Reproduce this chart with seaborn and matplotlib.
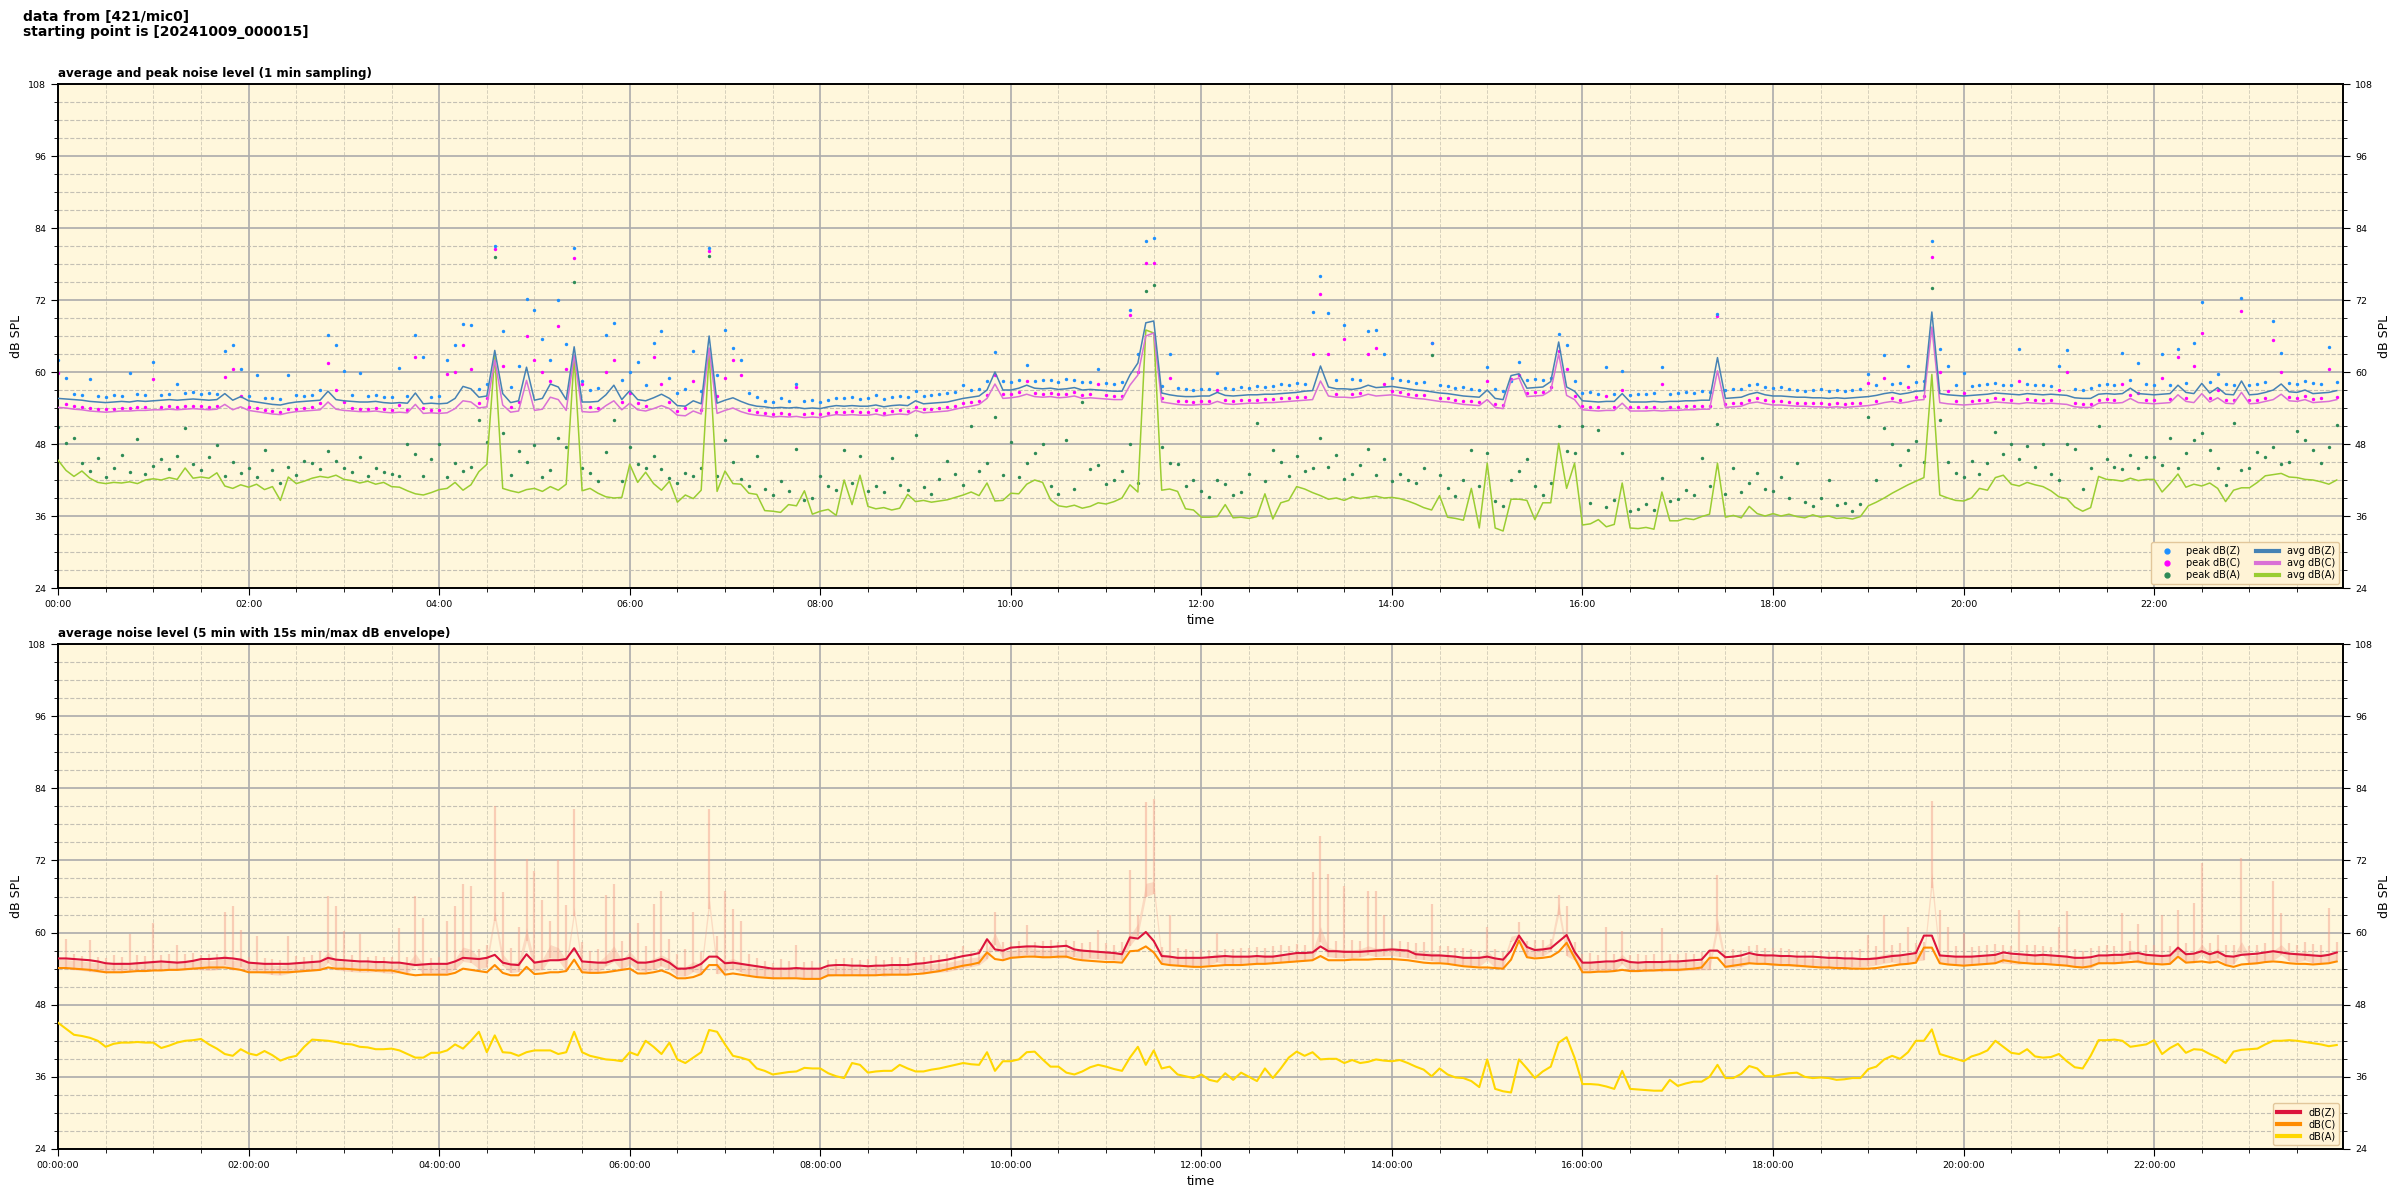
import numpy as np
import pandas as pd
import matplotlib
matplotlib.use("Agg")
import matplotlib.pyplot as plt
import matplotlib.dates as mdates
from matplotlib.lines import Line2D
from matplotlib.ticker import MultipleLocator
import seaborn as sns

# ---------------- data: 5-minute samples 00:00 .. 23:55 (12 values per hour) -------------
avg_z = [
 55.6, 55.5, 55.4, 55.3, 55.1, 55.0, 54.9, 55.0, 55.1, 55.0, 55.2, 55.1,
 55.2, 55.3, 55.4, 55.3, 55.4, 55.5, 55.4, 55.3, 55.4, 56.4, 55.3, 55.9,
 55.2, 55.0, 54.8, 54.6, 54.5, 54.8, 55.0, 55.1, 55.2, 55.3, 56.8, 55.4,
 55.2, 55.1, 55.0, 55.0, 55.1, 54.9, 54.8, 54.9, 54.8, 56.5, 54.7, 54.8,
 54.7, 54.8, 55.6, 57.6, 57.2, 55.8, 56.0, 63.6, 56.4, 54.9, 55.2, 60.8,
 55.3, 55.6, 58.0, 57.5, 55.4, 64.2, 55.0, 55.0, 55.1, 56.2, 57.8, 55.4,
 56.9, 55.4, 55.2, 55.7, 56.3, 55.6, 54.4, 54.3, 55.2, 54.7, 66.0, 54.8,
 55.3, 55.7, 55.1, 54.6, 54.3, 54.2, 54.0, 54.1, 54.0, 54.1, 53.9, 54.0,
 53.9, 54.2, 54.4, 54.3, 54.4, 54.3, 54.3, 54.5, 54.2, 54.4, 54.5, 54.4,
 55.2, 54.7, 54.8, 54.9, 55.0, 55.3, 55.6, 55.8, 56.0, 57.0, 60.0, 57.0,
 57.0, 57.3, 57.8, 57.3, 57.2, 57.3, 57.1, 57.2, 57.4, 57.0, 57.1, 57.0,
 56.9, 56.8, 56.8, 59.5, 61.5, 68.2, 68.5, 56.5, 56.2, 56.0, 55.9, 55.9,
 56.0, 56.0, 56.6, 56.1, 56.0, 56.1, 56.2, 56.2, 56.3, 56.3, 56.4, 56.5,
 56.6, 56.8, 56.9, 61.0, 57.5, 57.2, 57.2, 57.1, 57.3, 57.8, 57.4, 57.5,
 57.6, 57.4, 57.2, 57.0, 56.9, 56.7, 56.5, 56.4, 56.2, 56.0, 55.9, 55.8,
 57.0, 55.6, 55.4, 59.4, 59.7, 57.3, 57.4, 57.5, 58.4, 65.0, 57.5, 56.8,
 55.2, 55.1, 55.0, 55.1, 55.1, 56.4, 55.0, 55.0, 55.0, 55.1, 55.0, 55.1,
 55.1, 55.2, 55.2, 55.3, 55.3, 62.4, 55.6, 55.7, 55.8, 56.3, 56.6, 56.2,
 56.0, 56.0, 55.9, 55.8, 55.8, 55.7, 55.7, 55.6, 55.7, 55.6, 55.7, 55.8,
 55.9, 56.1, 56.4, 56.6, 56.3, 56.5, 56.8, 56.9, 70.0, 56.4, 56.2, 56.1,
 56.0, 56.1, 56.2, 56.3, 56.5, 56.4, 56.3, 56.2, 56.4, 56.3, 56.2, 56.3,
 56.2, 56.1, 55.7, 55.6, 55.6, 56.3, 56.4, 56.3, 56.4, 57.3, 56.4, 56.3,
 56.2, 56.3, 56.4, 57.8, 56.6, 56.4, 58.1, 56.5, 57.4, 56.3, 56.2, 58.5,
 56.2, 56.3, 56.6, 57.0, 58.0, 56.7, 56.6, 57.0, 56.4, 56.5, 56.6, 56.9,
]
avg_c = [
 54.1, 54.0, 53.8, 53.7, 53.5, 53.4, 53.3, 53.4, 53.5, 53.5, 53.6, 53.6,
 53.7, 53.7, 53.8, 53.7, 53.8, 53.9, 53.8, 53.7, 53.8, 54.6, 53.7, 54.2,
 53.6, 53.4, 53.2, 53.0, 52.9, 53.2, 53.4, 53.5, 53.6, 53.7, 55.0, 53.8,
 53.6, 53.5, 53.4, 53.4, 53.5, 53.3, 53.2, 53.3, 53.2, 54.6, 53.1, 53.2,
 53.1, 53.2, 53.9, 55.2, 55.0, 54.0, 54.2, 62.0, 54.5, 53.3, 53.5, 58.6,
 53.6, 53.8, 55.8, 55.4, 53.6, 62.8, 53.4, 53.3, 53.4, 54.4, 55.2, 53.7,
 54.8, 53.7, 53.5, 53.9, 54.4, 53.9, 52.8, 52.7, 53.5, 53.0, 64.0, 53.1,
 53.6, 54.0, 53.4, 53.0, 52.8, 52.7, 52.5, 52.6, 52.5, 52.6, 52.4, 52.5,
 52.4, 52.7, 52.9, 52.8, 52.9, 52.8, 52.8, 53.0, 52.7, 52.9, 53.0, 52.9,
 53.6, 53.2, 53.3, 53.4, 53.5, 53.8, 54.1, 54.3, 54.6, 55.6, 58.0, 55.6,
 55.7, 55.9, 56.3, 55.9, 55.8, 55.9, 55.7, 55.8, 56.0, 55.6, 55.7, 55.6,
 55.5, 55.4, 55.4, 57.8, 59.5, 66.0, 66.5, 55.0, 54.8, 54.6, 54.5, 54.5,
 54.6, 54.6, 55.1, 54.7, 54.6, 54.7, 54.8, 54.8, 54.9, 54.9, 55.0, 55.1,
 55.2, 55.3, 55.4, 58.5, 56.0, 55.8, 55.8, 55.7, 55.9, 56.3, 56.0, 56.1,
 56.2, 56.0, 55.8, 55.6, 55.5, 55.3, 55.1, 55.0, 54.8, 54.6, 54.5, 54.4,
 55.4, 54.1, 53.9, 58.6, 59.0, 55.9, 56.0, 56.1, 56.9, 63.0, 56.1, 55.4,
 53.7, 53.6, 53.5, 53.6, 53.6, 54.8, 53.5, 53.5, 53.5, 53.6, 53.5, 53.6,
 53.6, 53.7, 53.7, 53.8, 53.8, 60.2, 54.1, 54.2, 54.3, 54.8, 55.0, 54.7,
 54.5, 54.5, 54.4, 54.3, 54.3, 54.2, 54.2, 54.1, 54.2, 54.1, 54.2, 54.3,
 54.4, 54.6, 54.9, 55.1, 54.8, 55.0, 55.3, 55.4, 67.5, 54.9, 54.7, 54.6,
 54.5, 54.6, 54.7, 54.8, 55.0, 54.9, 54.8, 54.7, 54.9, 54.8, 54.7, 54.8,
 54.7, 54.6, 54.2, 54.1, 54.1, 54.8, 54.9, 54.8, 54.9, 55.6, 54.9, 54.8,
 54.7, 54.8, 54.9, 56.2, 55.1, 54.9, 56.4, 55.0, 55.7, 54.8, 54.7, 56.6,
 54.7, 54.8, 55.1, 55.4, 56.3, 55.2, 55.1, 55.4, 54.9, 55.0, 55.1, 55.4,
]
avg_a = [
 45.3, 43.6, 42.6, 43.5, 42.3, 41.6, 41.4, 41.6, 41.5, 41.7, 41.4, 42.0,
 42.2, 42.0, 42.4, 42.1, 44.0, 42.3, 42.5, 42.3, 43.2, 41.0, 40.6, 41.2,
 40.8, 41.3, 40.4, 40.9, 38.6, 42.5, 41.4, 41.8, 42.3, 42.6, 42.4, 42.8,
 42.1, 41.9, 41.5, 41.8, 41.3, 41.6, 40.9, 40.8, 40.2, 39.7, 39.5, 39.9,
 40.4, 40.6, 41.6, 40.3, 41.2, 43.4, 44.6, 62.8, 40.6, 40.2, 39.9, 40.4,
 40.6, 40.1, 40.9, 40.3, 41.3, 62.5, 40.2, 40.6, 39.8, 39.2, 39.0, 39.1,
 44.6, 41.6, 43.3, 41.4, 40.3, 41.8, 38.3, 39.5, 38.9, 40.3, 63.0, 40.1,
 43.5, 41.4, 41.3, 39.8, 39.6, 36.9, 36.8, 36.6, 37.9, 37.7, 40.2, 36.3,
 36.8, 37.1, 36.1, 42.0, 37.9, 42.8, 37.6, 37.2, 37.4, 37.0, 37.3, 39.6,
 38.4, 38.6, 38.3, 38.5, 38.7, 39.1, 39.5, 40.0, 39.4, 41.5, 38.5, 38.6,
 39.8, 39.7, 41.3, 42.0, 41.6, 38.7, 37.7, 37.5, 37.8, 37.3, 37.6, 38.2,
 38.0, 38.4, 39.0, 41.2, 40.0, 67.0, 66.5, 40.3, 40.5, 40.1, 37.2, 37.0,
 35.8, 35.8, 35.9, 37.9, 35.7, 35.8, 35.6, 35.9, 39.7, 35.5, 38.2, 38.6,
 40.9, 40.5, 39.9, 39.4, 38.8, 39.0, 38.6, 39.2, 38.9, 39.1, 39.3, 39.0,
 39.1, 38.9, 38.5, 38.0, 37.4, 37.0, 39.4, 35.8, 35.6, 35.3, 40.6, 34.0,
 44.8, 34.0, 33.5, 38.8, 38.8, 38.6, 35.4, 38.2, 38.2, 48.1, 40.6, 44.8,
 34.5, 34.7, 35.4, 34.2, 34.6, 41.5, 34.0, 33.9, 34.1, 33.8, 40.0, 35.2,
 35.2, 35.6, 35.4, 35.9, 36.3, 44.8, 35.8, 36.1, 35.7, 37.6, 36.4, 36.0,
 36.4, 36.0, 36.3, 35.9, 35.7, 36.2, 35.8, 36.0, 35.6, 35.7, 35.5, 35.9,
 37.7, 38.3, 39.0, 39.8, 40.5, 41.2, 41.8, 42.4, 59.6, 39.5, 39.0, 38.6,
 38.5, 39.0, 40.6, 40.3, 42.4, 42.8, 41.3, 41.0, 41.6, 41.2, 40.9, 40.2,
 39.2, 38.9, 37.5, 36.8, 37.4, 42.6, 42.1, 42.0, 41.8, 42.3, 41.9, 42.1,
 42.1, 40.0, 41.4, 43.0, 40.8, 41.3, 41.0, 41.5, 40.6, 38.4, 40.3, 40.7,
 40.7, 41.6, 42.7, 42.9, 43.1, 42.5, 42.4, 42.1, 42.0, 41.7, 41.3, 42.0,
]
peak_z = [
 62.0, 59.0, 56.4, 56.1, 58.8, 56.0, 55.8, 56.2, 56.0, 59.8, 56.3, 56.1,
 61.6, 56.2, 56.4, 58.0, 56.5, 56.6, 56.3, 56.5, 56.4, 63.5, 64.5, 60.5,
 56.0, 59.5, 55.7, 55.6, 55.5, 59.5, 56.1, 56.0, 56.2, 57.0, 66.1, 64.5,
 60.2, 56.2, 59.8, 56.0, 56.1, 55.9, 55.9, 60.7, 56.0, 66.1, 62.5, 55.8,
 56.0, 62.0, 64.5, 68.0, 67.8, 57.2, 58.0, 81.0, 66.8, 57.5, 61.0, 72.2,
 70.3, 65.5, 62.0, 72.0, 64.6, 80.6, 58.5, 57.0, 57.3, 66.2, 68.1, 58.6,
 60.0, 61.6, 57.8, 64.8, 66.9, 59.0, 56.5, 57.2, 63.5, 56.8, 80.6, 59.5,
 67.0, 64.0, 62.0, 56.5, 55.8, 55.2, 55.0, 55.6, 55.2, 58.0, 55.1, 55.3,
 55.0, 55.4, 55.6, 55.7, 55.8, 55.5, 55.6, 56.1, 55.5, 55.9, 56.0, 55.8,
 56.8, 56.0, 56.2, 56.3, 56.5, 56.6, 57.8, 57.0, 57.2, 58.5, 63.4, 58.5,
 58.4, 58.6, 61.2, 58.5, 58.6, 58.7, 58.4, 58.8, 58.6, 58.3, 58.4, 60.5,
 58.2, 58.0, 58.4, 70.4, 63.0, 81.8, 82.3, 57.6, 63.0, 57.4, 57.2, 57.0,
 57.2, 57.1, 59.9, 57.3, 57.2, 57.5, 57.4, 57.6, 57.5, 57.7, 58.0, 57.8,
 58.1, 58.0, 70.0, 76.0, 69.8, 58.6, 67.8, 58.8, 58.6, 66.9, 67.0, 63.0,
 59.0, 58.6, 58.5, 58.2, 58.4, 64.8, 57.8, 57.7, 57.4, 57.5, 57.2, 57.0,
 60.9, 57.2, 56.8, 58.5, 61.7, 58.6, 58.8, 58.7, 59.0, 66.3, 64.5, 58.5,
 56.5, 56.6, 56.3, 60.9, 56.4, 60.2, 56.2, 56.4, 56.3, 56.5, 60.8, 56.4,
 56.5, 56.6, 56.5, 56.8, 56.7, 69.6, 57.0, 57.2, 57.1, 57.8, 58.0, 57.5,
 57.4, 57.5, 57.2, 57.0, 56.9, 57.0, 57.1, 56.8, 57.0, 56.9, 57.0, 57.2,
 59.6, 57.8, 62.9, 58.0, 58.2, 61.0, 58.3, 58.5, 81.9, 63.8, 61.0, 57.8,
 59.9, 57.6, 57.8, 58.0, 58.1, 57.9, 57.8, 63.8, 58.0, 57.9, 57.8, 57.6,
 61.0, 63.6, 57.2, 57.0, 57.4, 57.8, 58.0, 57.8, 63.2, 58.6, 61.5, 58.0,
 57.9, 63.0, 57.8, 63.8, 58.2, 64.9, 71.6, 58.3, 59.6, 58.0, 57.9, 72.4,
 57.8, 58.0, 58.3, 68.5, 63.2, 58.2, 58.0, 58.5, 58.1, 58.0, 64.1, 58.4,
]
peak_c = [
 59.8, 54.6, 54.4, 54.2, 54.0, 53.9, 53.8, 53.9, 54.0, 54.0, 54.1, 54.1,
 58.9, 54.2, 54.3, 54.2, 54.3, 54.4, 54.3, 54.2, 54.3, 59.2, 60.5, 56.0,
 54.1, 54.0, 53.7, 53.5, 53.4, 53.8, 53.9, 54.0, 54.1, 54.8, 61.5, 57.0,
 55.0, 54.0, 53.9, 53.9, 54.0, 53.8, 53.7, 54.5, 53.7, 62.5, 54.0, 53.7,
 53.6, 59.6, 60.0, 64.5, 60.5, 54.8, 55.6, 80.5, 61.0, 54.2, 55.0, 66.0,
 62.0, 60.0, 58.5, 67.6, 60.5, 79.0, 58.0, 54.2, 54.0, 60.0, 62.0, 55.0,
 56.5, 54.8, 54.3, 62.5, 58.0, 55.0, 53.5, 54.0, 58.5, 53.6, 80.1, 56.0,
 59.0, 62.0, 59.5, 53.6, 53.3, 53.2, 53.0, 53.2, 53.0, 57.5, 53.0, 53.1,
 53.0, 53.2, 53.4, 53.3, 53.5, 53.3, 53.4, 53.6, 53.2, 53.5, 53.6, 53.5,
 54.2, 53.8, 53.9, 54.0, 54.1, 54.4, 54.8, 55.0, 55.2, 56.2, 59.5, 56.3,
 56.3, 56.6, 58.5, 56.5, 56.4, 56.5, 56.3, 56.4, 56.6, 56.2, 56.3, 58.0,
 56.1, 56.0, 56.0, 69.5, 60.0, 78.1, 78.2, 55.6, 59.0, 55.2, 55.1, 55.0,
 55.2, 55.1, 57.0, 55.3, 55.2, 55.3, 55.4, 55.4, 55.5, 55.5, 55.6, 55.7,
 55.8, 55.9, 63.0, 73.0, 63.0, 56.4, 65.5, 56.3, 56.5, 63.0, 64.0, 58.0,
 56.8, 56.6, 56.4, 56.2, 56.1, 64.8, 55.7, 55.6, 55.4, 55.2, 55.1, 55.0,
 58.5, 54.7, 54.5, 58.8, 59.5, 56.5, 56.6, 56.7, 57.5, 63.5, 60.5, 56.0,
 54.3, 54.2, 54.1, 56.0, 54.2, 57.0, 54.1, 54.1, 54.1, 54.2, 58.0, 54.2,
 54.2, 54.3, 54.3, 54.4, 54.4, 69.4, 54.7, 54.8, 54.9, 55.4, 55.6, 55.3,
 55.1, 55.1, 55.0, 54.9, 54.9, 54.8, 54.8, 54.7, 54.8, 54.7, 54.8, 54.9,
 58.2, 55.2, 59.0, 55.7, 55.4, 57.5, 55.9, 56.0, 79.2, 60.0, 56.8, 55.2,
 56.5, 55.2, 55.3, 55.4, 55.6, 55.5, 55.4, 58.5, 55.5, 55.4, 55.3, 55.4,
 57.0, 60.0, 54.8, 54.7, 54.7, 55.4, 55.5, 55.4, 58.0, 56.2, 56.5, 55.4,
 55.3, 59.0, 55.5, 62.5, 55.7, 61.0, 66.5, 55.6, 57.0, 55.4, 55.3, 70.1,
 55.3, 55.4, 55.7, 65.3, 60.0, 55.8, 55.7, 56.0, 55.5, 55.6, 60.5, 55.9,
]
peak_a = [
 50.8, 48.2, 49.0, 44.8, 43.5, 45.6, 42.5, 44.0, 46.2, 43.3, 48.9, 43.0,
 44.3, 45.5, 43.8, 46.0, 50.7, 44.6, 43.6, 45.9, 47.8, 42.6, 45.0, 43.2,
 44.0, 42.5, 47.0, 43.6, 41.5, 44.2, 42.9, 45.2, 44.8, 43.9, 46.8, 45.1,
 44.0, 43.3, 45.8, 42.6, 44.0, 43.4, 43.0, 42.6, 48.0, 46.3, 42.6, 45.5,
 48.0, 42.5, 44.8, 43.5, 44.2, 52.0, 48.4, 79.1, 49.8, 42.8, 46.8, 45.0,
 47.8, 42.5, 43.6, 49.0, 47.5, 75.0, 44.0, 43.2, 41.8, 46.6, 52.0, 41.8,
 47.5, 44.6, 44.0, 46.0, 43.8, 42.3, 41.5, 43.1, 42.6, 44.0, 79.4, 42.6,
 48.7, 45.0, 42.2, 41.0, 46.0, 40.5, 39.5, 41.8, 40.2, 47.2, 38.6, 39.0,
 42.6, 41.0, 40.4, 47.0, 41.5, 46.0, 40.2, 41.0, 40.0, 45.6, 41.2, 40.4,
 49.5, 40.8, 39.6, 42.2, 45.2, 43.0, 41.2, 51.0, 43.5, 44.8, 52.5, 42.8,
 48.3, 42.5, 44.9, 46.5, 48.0, 41.0, 39.6, 48.6, 40.5, 55.0, 43.8, 44.5,
 41.4, 42.0, 43.5, 48.0, 41.5, 73.5, 74.5, 47.5, 44.8, 44.6, 41.0, 42.0,
 40.1, 39.2, 42.0, 41.3, 39.5, 40.0, 43.0, 51.5, 41.8, 47.0, 45.0, 42.6,
 46.0, 43.5, 44.0, 49.0, 44.2, 46.2, 42.1, 43.0, 44.5, 47.2, 42.8, 45.5,
 41.8, 43.0, 42.0, 41.5, 44.0, 62.9, 42.8, 40.6, 39.4, 42.0, 47.0, 41.0,
 46.5, 38.5, 37.6, 42.0, 43.5, 45.5, 41.0, 39.5, 41.5, 51.0, 46.8, 46.5,
 51.0, 38.2, 50.3, 37.5, 38.6, 46.5, 36.8, 37.2, 38.0, 37.0, 42.4, 38.5,
 38.8, 40.4, 39.5, 45.6, 41.0, 51.3, 39.6, 44.0, 40.0, 41.5, 43.2, 40.5,
 40.2, 42.5, 39.0, 44.8, 38.4, 37.6, 39.0, 42.0, 37.8, 38.2, 36.8, 38.0,
 52.5, 42.0, 50.6, 48.0, 44.5, 47.0, 48.5, 45.0, 74.0, 52.0, 45.0, 43.2,
 42.5, 45.2, 43.0, 44.8, 50.0, 46.4, 48.0, 45.5, 47.6, 44.2, 48.0, 43.0,
 42.0, 48.0, 47.2, 40.5, 44.0, 51.0, 45.5, 44.2, 43.8, 46.2, 44.0, 45.8,
 45.8, 44.5, 49.0, 44.0, 46.5, 48.7, 49.9, 47.0, 44.0, 41.2, 51.5, 43.6,
 44.0, 46.6, 45.8, 47.5, 44.6, 45.0, 50.2, 48.6, 47.0, 44.8, 47.5, 51.2,
]
# 5-min averages (lower panel)
bot_z = [
 55.7, 55.7, 55.6, 55.5, 55.4, 55.2, 54.9, 54.8, 54.8, 54.8, 54.9, 55.0,
 55.1, 55.2, 55.1, 55.0, 55.1, 55.3, 55.6, 55.6, 55.7, 55.8, 55.7, 55.5,
 55.0, 54.9, 54.8, 54.8, 54.8, 54.8, 54.9, 55.0, 55.1, 55.2, 55.8, 55.5,
 55.4, 55.3, 55.2, 55.2, 55.1, 55.1, 55.0, 55.0, 54.8, 54.6, 54.7, 54.8,
 54.8, 54.8, 55.2, 55.8, 55.7, 55.6, 55.8, 56.3, 55.0, 54.7, 54.6, 56.4,
 55.0, 55.2, 55.4, 55.4, 55.6, 57.4, 55.2, 55.1, 55.0, 55.0, 55.4, 55.5,
 55.8, 55.0, 55.0, 55.2, 55.6, 55.0, 54.0, 54.0, 54.2, 54.8, 56.0, 56.0,
 54.9, 55.0, 54.8, 54.6, 54.4, 54.2, 54.0, 54.0, 54.0, 54.1, 54.0, 54.0,
 54.0, 54.5, 54.6, 54.6, 54.5, 54.5, 54.4, 54.5, 54.5, 54.6, 54.6, 54.6,
 54.8, 54.9, 55.1, 55.3, 55.5, 55.8, 56.1, 56.3, 56.6, 58.9, 57.2, 57.0,
 57.5, 57.6, 57.7, 57.7, 57.6, 57.6, 57.7, 57.8, 57.2, 57.0, 56.9, 56.8,
 56.7, 56.6, 56.4, 59.2, 59.0, 60.1, 58.6, 56.1, 56.0, 55.8, 55.8, 55.8,
 55.8, 55.9, 56.0, 56.1, 56.0, 56.0, 56.0, 56.1, 56.0, 56.0, 56.2, 56.4,
 56.6, 56.6, 56.7, 57.7, 56.9, 56.9, 56.8, 56.8, 56.8, 56.9, 57.0, 57.1,
 57.2, 57.1, 57.0, 56.4, 56.3, 56.2, 56.2, 56.1, 56.0, 55.8, 55.8, 55.8,
 56.0, 55.7, 55.5, 57.0, 59.5, 57.6, 57.1, 57.2, 57.4, 58.5, 59.6, 56.8,
 55.0, 55.0, 55.1, 55.2, 55.2, 55.5, 55.1, 55.0, 55.1, 55.1, 55.1, 55.2,
 55.2, 55.3, 55.4, 55.5, 57.0, 57.0, 55.9, 56.0, 56.2, 56.6, 56.3, 56.2,
 56.2, 56.1, 56.1, 56.0, 56.0, 56.0, 55.9, 55.8, 55.8, 55.7, 55.7, 55.6,
 55.6, 55.7, 55.9, 56.1, 56.2, 56.4, 56.6, 59.5, 59.5, 56.2, 56.1, 56.0,
 56.0, 56.0, 56.1, 56.2, 56.3, 56.7, 56.5, 56.4, 56.3, 56.2, 56.3, 56.2,
 56.1, 56.0, 55.8, 55.8, 55.9, 56.2, 56.2, 56.3, 56.3, 56.5, 56.6, 56.3,
 56.2, 56.1, 56.2, 57.5, 56.4, 56.5, 56.9, 56.4, 56.8, 56.1, 56.0, 56.3,
 56.4, 56.5, 56.7, 56.9, 56.7, 56.5, 56.4, 56.3, 56.2, 56.1, 56.3, 56.7,
]
bot_c = [
 54.1, 54.1, 54.0, 53.9, 53.8, 53.6, 53.4, 53.4, 53.4, 53.5, 53.6, 53.6,
 53.7, 53.7, 53.8, 53.8, 53.9, 54.0, 54.1, 54.2, 54.2, 54.2, 54.0, 53.8,
 53.4, 53.4, 53.4, 53.4, 53.4, 53.4, 53.5, 53.6, 53.7, 53.8, 54.2, 54.0,
 54.0, 53.9, 53.8, 53.8, 53.7, 53.7, 53.7, 53.4, 53.1, 52.9, 53.0, 53.0,
 53.0, 53.0, 53.3, 54.0, 53.8, 53.6, 53.4, 54.6, 53.3, 52.9, 52.9, 54.3,
 53.1, 53.2, 53.4, 53.4, 53.6, 55.5, 53.4, 53.3, 53.3, 53.4, 53.6, 53.8,
 54.0, 53.2, 53.2, 53.4, 53.7, 53.2, 52.4, 52.4, 52.6, 53.1, 54.6, 54.6,
 53.0, 53.2, 53.0, 52.8, 52.6, 52.5, 52.4, 52.4, 52.4, 52.4, 52.3, 52.3,
 52.3, 52.9, 52.9, 52.9, 52.9, 52.9, 52.9, 52.9, 53.0, 53.0, 53.0, 53.0,
 53.1, 53.2, 53.4, 53.6, 53.9, 54.2, 54.5, 54.7, 55.0, 56.7, 55.6, 55.4,
 55.8, 55.9, 56.0, 56.0, 55.9, 55.9, 56.0, 56.0, 55.6, 55.4, 55.3, 55.2,
 55.1, 55.1, 55.0, 56.9, 57.0, 57.7, 56.7, 54.8, 54.6, 54.5, 54.4, 54.3,
 54.3, 54.4, 54.5, 54.6, 54.6, 54.6, 54.7, 54.8, 54.8, 54.9, 55.0, 55.1,
 55.2, 55.3, 55.4, 56.1, 55.4, 55.4, 55.4, 55.5, 55.5, 55.5, 55.6, 55.6,
 55.6, 55.5, 55.4, 55.2, 55.0, 54.9, 54.9, 54.8, 54.6, 54.4, 54.3, 54.2,
 54.2, 54.1, 54.0, 55.5, 58.7, 55.9, 55.7, 55.8, 56.0, 56.8, 58.3, 55.8,
 53.4, 53.4, 53.5, 53.5, 53.6, 53.8, 53.6, 53.6, 53.7, 53.7, 53.8, 53.8,
 53.8, 53.9, 54.0, 54.2, 55.8, 55.8, 54.3, 54.5, 54.7, 54.9, 54.8, 54.8,
 54.7, 54.6, 54.6, 54.5, 54.4, 54.3, 54.2, 54.2, 54.1, 54.1, 54.0, 54.0,
 54.0, 54.1, 54.3, 54.5, 54.7, 54.8, 55.0, 57.5, 57.5, 54.9, 54.7, 54.6,
 54.5, 54.6, 54.7, 54.8, 54.9, 55.4, 55.2, 55.0, 54.9, 54.8, 54.8, 54.7,
 54.6, 54.5, 54.3, 54.2, 54.4, 54.9, 54.9, 54.9, 55.0, 55.1, 55.2, 54.9,
 54.8, 54.7, 54.8, 56.0, 55.0, 55.1, 55.2, 55.0, 55.2, 54.6, 54.3, 54.7,
 54.8, 54.9, 55.1, 55.2, 55.1, 54.9, 54.8, 54.8, 54.7, 54.8, 54.9, 55.2,
]
bot_a = [
 45.0, 44.0, 43.0, 42.8, 42.5, 42.0, 41.0, 41.5, 41.7, 41.7, 41.8, 41.7,
 41.7, 40.8, 41.2, 41.7, 42.0, 42.1, 42.3, 41.4, 40.7, 39.8, 39.5, 40.6,
 39.9, 39.6, 40.3, 39.6, 38.7, 39.2, 39.5, 41.0, 42.2, 42.1, 42.0, 41.8,
 41.5, 41.4, 41.0, 40.9, 40.6, 40.6, 40.7, 40.4, 39.8, 39.2, 39.2, 40.0,
 40.0, 40.4, 41.4, 40.7, 42.0, 43.5, 40.1, 42.9, 40.1, 40.0, 39.5, 40.1,
 40.4, 40.4, 40.4, 39.8, 40.1, 43.5, 40.1, 39.5, 39.2, 38.9, 38.8, 38.6,
 40.1, 39.6, 42.0, 41.0, 39.8, 41.7, 38.9, 38.3, 39.2, 40.1, 43.8, 43.5,
 41.4, 39.5, 39.2, 38.8, 37.4, 37.0, 36.4, 36.6, 36.8, 36.9, 37.5, 37.4,
 37.4, 36.6, 36.1, 35.8, 38.3, 38.0, 36.7, 36.9, 37.0, 37.0, 38.0, 37.4,
 36.9, 36.9, 37.2, 37.4, 37.7, 38.0, 38.3, 38.1, 38.0, 40.1, 37.0, 38.6,
 38.6, 38.9, 40.1, 40.2, 38.9, 37.7, 37.7, 36.7, 36.4, 36.9, 37.6, 38.0,
 37.7, 37.3, 37.0, 39.2, 41.0, 38.0, 40.4, 37.4, 37.7, 36.4, 36.1, 35.8,
 36.4, 35.5, 35.2, 36.6, 35.5, 36.7, 36.0, 35.3, 37.4, 35.8, 37.4, 39.2,
 40.2, 39.5, 40.1, 38.9, 39.0, 39.0, 38.3, 38.8, 38.3, 38.5, 38.9, 38.7,
 38.6, 38.8, 38.3, 37.7, 37.2, 36.1, 37.4, 36.4, 35.9, 35.8, 35.3, 34.3,
 38.9, 34.0, 33.6, 33.4, 38.9, 37.4, 35.8, 36.9, 37.7, 41.7, 42.6, 39.2,
 34.8, 34.8, 34.7, 34.4, 34.0, 37.0, 34.0, 33.9, 33.8, 33.7, 33.7, 35.5,
 34.5, 34.9, 35.2, 35.2, 36.0, 38.0, 35.8, 35.8, 36.5, 37.8, 37.4, 36.1,
 36.1, 36.4, 36.6, 36.7, 36.0, 35.8, 35.9, 35.8, 35.5, 35.6, 35.8, 35.8,
 37.3, 37.7, 38.9, 39.5, 39.0, 40.1, 42.0, 42.0, 43.9, 39.8, 39.4, 39.0,
 38.6, 39.4, 39.8, 40.4, 42.0, 41.0, 40.0, 39.8, 40.6, 39.4, 39.2, 39.3,
 39.8, 38.6, 37.6, 37.4, 39.5, 42.1, 42.1, 42.2, 42.0, 41.0, 41.2, 41.4,
 42.1, 39.8, 40.8, 41.5, 40.0, 40.6, 40.5, 39.8, 39.2, 38.3, 40.2, 40.5,
 40.6, 40.7, 41.4, 42.0, 42.0, 42.1, 42.0, 41.8, 41.6, 41.4, 41.1, 41.3,
]

start = pd.Timestamp("2024-10-09 00:00:00")
times = pd.date_range(start, periods=len(avg_z), freq="5min")
x_end = pd.Timestamp("2024-10-09 23:59:00")

BG = "#fff7dc"
TICK_FONT = ["Liberation Sans Narrow", "DejaVu Sans"]

fig = plt.figure(figsize=(24, 12), dpi=100)
fig.text(0.0096, 0.992, "data from [421/mic0]\nstarting point is [20241009_000015]",
         ha="left", va="top", fontsize=10, fontweight="bold", linespacing=1.1)

ax1 = fig.add_axes([0.0242, 0.51, 0.9521, 0.42])
ax2 = fig.add_axes([0.0242, 0.0425, 0.9521, 0.4208])


def style_axes(ax, fmt, title):
    ax.set_facecolor(BG)
    ax.set_ylim(24, 108)
    ax.set_xlim(start, x_end)
    ax.yaxis.set_major_locator(MultipleLocator(12))
    ax.yaxis.set_minor_locator(MultipleLocator(3))
    ax.xaxis.set_major_locator(mdates.HourLocator(byhour=range(0, 24, 2)))
    ax.xaxis.set_minor_locator(mdates.MinuteLocator(byminute=[0, 30]))
    ax.xaxis.set_major_formatter(mdates.DateFormatter(fmt))
    ax.grid(which="major", color="#ababab", lw=1.2, ls="-")
    ax.grid(which="minor", axis="y", color="#c4c0b4", lw=0.8, ls="--")
    ax.grid(which="minor", axis="x", color="#d6d0bc", lw=0.7, ls="--")
    ax.set_axisbelow(True)
    for s in ax.spines.values():
        s.set_linewidth(1.4)
        s.set_color("black")
    ax.tick_params(which="major", length=5, width=0.8, labelsize=6.8,
                   labelfontfamily=TICK_FONT)
    ax.tick_params(which="minor", length=3, width=0.6)
    ax.set_title(title, loc="left", fontsize=8.6, fontweight="bold", pad=5)
    tw = ax.twinx()
    tw.set_ylim(24, 108)
    tw.yaxis.set_major_locator(MultipleLocator(12))
    tw.yaxis.set_minor_locator(MultipleLocator(3))
    tw.tick_params(which="major", length=5, width=0.8, labelsize=6.8,
                   labelfontfamily=TICK_FONT)
    tw.tick_params(which="minor", length=3, width=0.6)
    tw.set_ylabel("dB SPL", fontsize=9)
    for s in tw.spines.values():
        s.set_visible(False)
    return tw


# ---------------- top panel ----------------
tw1 = style_axes(ax1, "%H:%M", "average and peak noise level (1 min sampling)")
sns.scatterplot(x=times, y=peak_a, ax=ax1, color="#2e8b57", marker="o", s=6,
                linewidth=0, legend=False, zorder=2)
sns.scatterplot(x=times, y=peak_c, ax=ax1, color="#ff00ff", marker="o", s=6,
                linewidth=0, legend=False, zorder=2)
sns.scatterplot(x=times, y=peak_z, ax=ax1, color="#1e90ff", marker="o", s=6,
                linewidth=0, legend=False, zorder=2)
sns.lineplot(x=times, y=avg_a, ax=ax1, color="yellowgreen", lw=1.1, legend=False, zorder=3)
sns.lineplot(x=times, y=avg_c, ax=ax1, color="orchid", lw=1.1, legend=False, zorder=3)
sns.lineplot(x=times, y=avg_z, ax=ax1, color="steelblue", lw=1.1, legend=False, zorder=4)
ax1.set_xlabel("time", fontsize=9)
ax1.set_ylabel("dB SPL", fontsize=9)

h_top = [
    Line2D([], [], ls="none", marker="o", ms=3.5, color="#1e90ff", label="peak dB(Z)"),
    Line2D([], [], ls="none", marker="o", ms=3.5, color="#ff00ff", label="peak dB(C)"),
    Line2D([], [], ls="none", marker="o", ms=3.5, color="#2e8b57", label="peak dB(A)"),
    Line2D([], [], color="steelblue", lw=3, label="avg dB(Z)"),
    Line2D([], [], color="orchid", lw=3, label="avg dB(C)"),
    Line2D([], [], color="yellowgreen", lw=3, label="avg dB(A)"),
]
tw1.legend(handles=h_top, loc="lower right", ncol=2, fontsize=7,
           frameon=True, facecolor="#fff3d6", edgecolor="#e2c79b",
           framealpha=1, borderaxespad=0.4, handlelength=2.4,
           columnspacing=1.6, labelspacing=0.2)

# ---------------- bottom panel ----------------
tw2 = style_axes(ax2, "%H:%M:%S", "average noise level (5 min with 15s min/max dB envelope)")
ax2.fill_between(times, avg_c, avg_z, color="#f4a58f", alpha=0.35, lw=0, zorder=2)
ax2.vlines(times, avg_c, peak_z, color="#f4a58f", alpha=0.5, lw=1.6, zorder=2)
sns.lineplot(x=times, y=bot_a, ax=ax2, color="gold", lw=1.5, legend=False, zorder=3)
sns.lineplot(x=times, y=bot_c, ax=ax2, color="darkorange", lw=1.5, legend=False, zorder=3)
sns.lineplot(x=times, y=bot_z, ax=ax2, color="crimson", lw=1.5, legend=False, zorder=4)
ax2.set_xlabel("time", fontsize=9)
ax2.set_ylabel("dB SPL", fontsize=9)

h_bot = [
    Line2D([], [], color="crimson", lw=3, label="dB(Z)"),
    Line2D([], [], color="darkorange", lw=3, label="dB(C)"),
    Line2D([], [], color="gold", lw=3, label="dB(A)"),
]
tw2.legend(handles=h_bot, loc="lower right", fontsize=7, frameon=True,
           facecolor="#fff3d6", edgecolor="#e2c79b", framealpha=1,
           borderaxespad=0.4, handlelength=2.4, labelspacing=0.2)

fig.savefig("out.png", dpi=100, facecolor="white")
